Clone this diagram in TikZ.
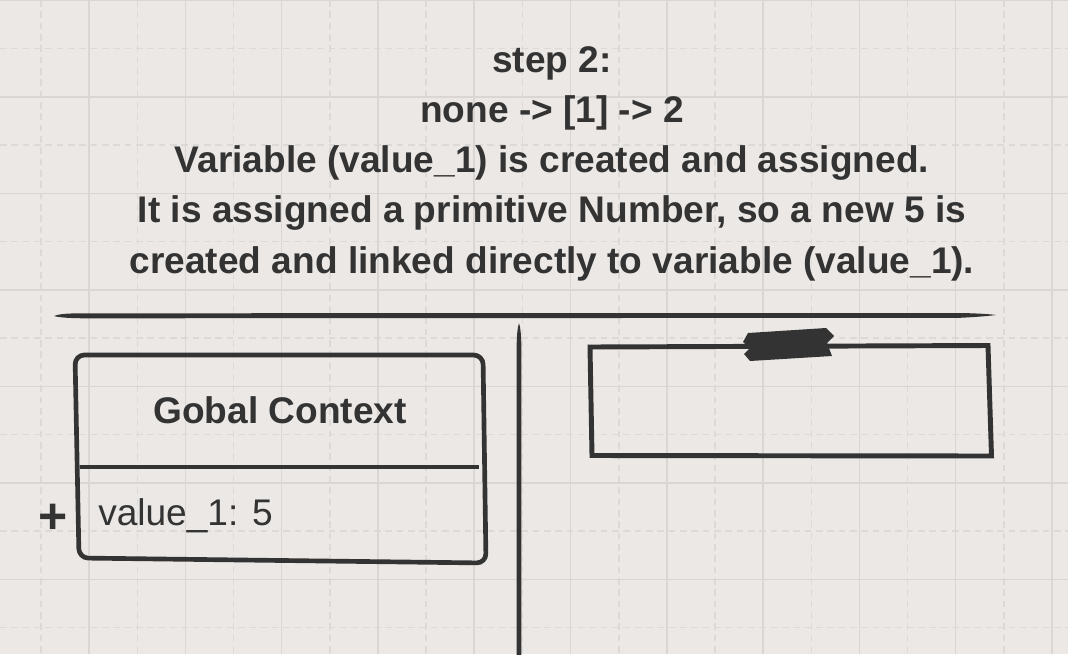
\documentclass[tikz,border=0pt]{standalone}
\usepackage{fontspec}
\setmainfont{Liberation Sans}
\definecolor{ink}{HTML}{333333}
\definecolor{paper}{HTML}{EBE8E5}
\definecolor{gridsolid}{HTML}{D9D6D3}
\definecolor{griddash}{HTML}{DCD9D6}
\tikzset{
  headtext/.style={font=\fontsize{27.8pt}{33pt}\selectfont\bfseries, text=ink, inner sep=0pt, anchor=base},
  bodytext/.style={font=\fontsize{27.8pt}{33pt}\selectfont, text=ink, inner sep=0pt},
  plustext/.style={font=\fontsize{37.5pt}{40pt}\selectfont\bfseries, text=ink, inner sep=0pt, anchor=base},
  gsolid/.style={draw=gridsolid, line width=1.1pt},
  gdash/.style={draw=griddash, line width=1.1pt, dash pattern=on 5pt off 3.5pt},
  sketch/.style={draw=ink, line width=3.7pt},
}
\begin{document}
\begin{tikzpicture}[x=0.75pt,y=-0.75pt]
\fill[paper] (0,0) rectangle (1068,654);
\useasboundingbox (0,0) rectangle (1068,654);
% grid
\foreach \k in {0,...,10} { \draw[gdash] ({41+96.3*\k},0) -- ({41+96.3*\k},654); }
\foreach \k in {0,...,6} { \draw[gdash] (0,{48.5+96.5*\k}) -- (1068,{48.5+96.5*\k}); }
\foreach \k in {0,...,11} { \draw[gsolid] ({-7.3+96.3*\k},0) -- ({-7.3+96.3*\k},654); }
\foreach \k in {0,...,6} { \draw[gsolid] (0,{0.5+96.5*\k}) -- (1068,{0.5+96.5*\k}); }

% title text
\node[headtext] (t1) at (552,72) {step 2:};
\node[headtext] (t2) at (552,122.3) {none -> [1] -> 2};
\node[headtext] (t3) at (552,172.6) {Variable (value\_1) is created and assigned.};
\node[headtext] (t4) at (552,222.9) {It is assigned a primitive Number, so a new 5 is};
\node[headtext] (t5) at (552,273.2) {created and linked directly to variable (value\_1).};

% separator lines (brush strokes)
\fill[ink] (54,316) .. controls (60,313.6) and (70,313.3) .. (85,313.3)
  -- (960,313.0) .. controls (980,313.4) and (990,314.2) .. (996,315)
  .. controls (990,315.8) and (980,316.8) .. (960,317.8)
  -- (85,318.3) .. controls (70,318.2) and (60,317.6) .. (54,316) -- cycle;
\fill[ink] (519,323) .. controls (520.6,328) and (521.3,336) .. (521.4,350)
  -- (521.4,660) -- (516.6,660) -- (516.6,350)
  .. controls (516.7,336) and (517.4,328) .. (519,323) -- cycle;

% global context box
\draw[sketch, line width=3.5pt, rounded corners=7pt, line join=round]
  (75,355) -- (483,355) -- (486,563) -- (79,558) -- cycle;
\draw[draw=ink, line width=2.5pt] (80,467) -- (479,467);
\node[headtext] (gc) at (280,423) {Gobal Context};
\node[bodytext, anchor=base west] (v1) at (98,525) {value\_1: 5};
\node[plustext] (plus) at (53,533) {+};

% right box with tape
\draw[sketch, line join=miter] (590,347) -- (988,345.5) -- (991.5,456) -- (592,455.5) -- cycle;
\fill[ink] (748,333) -- (826,328) -- (834,336) -- (827,343) -- (832,356)
  -- (750,361) -- (744,354) -- (750,348) -- (743,342) -- cycle;
\end{tikzpicture}
\end{document}
